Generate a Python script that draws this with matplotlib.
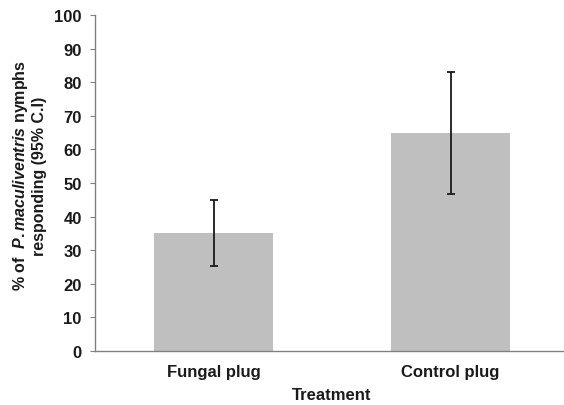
import matplotlib
matplotlib.use("Agg")
import matplotlib.pyplot as plt

categories = ["Fungal plug", "Control plug"]
percent = [35, 65]
ci_low = [25.2, 46.8]
ci_high = [44.8, 83.1]

plt.rcParams["font.family"] = "Liberation Sans"
plt.rcParams["font.weight"] = "bold"
plt.rcParams["mathtext.fontset"] = "custom"
plt.rcParams["mathtext.it"] = "Liberation Sans:italic:bold"
plt.rcParams["mathtext.rm"] = "Liberation Sans:bold"

txt = "#1a1a1a"
fig = plt.figure(figsize=(5.64, 4.06), dpi=100)
ax = fig.add_axes([95 / 564, 1 - 352 / 406, 474 / 564, 336 / 406])

err = [[p - l for p, l in zip(percent, ci_low)],
       [h - p for p, h in zip(percent, ci_high)]]
x = range(len(categories))
ax.bar(x, percent, width=0.5, color="#bfbfbf")
ax.errorbar(x, percent, yerr=err, fmt="none", ecolor=txt,
            elinewidth=1.3, capsize=2.6, capthick=1.3)

ax.set_xlim(-0.5, 1.5)
ax.set_ylim(0, 100)
ax.set_yticks(range(0, 101, 10))
ax.set_yticklabels([str(v) for v in range(0, 101, 10)],
                   fontsize=12, fontweight="bold", color=txt)
ax.set_xticks(list(x))
ax.set_xticklabels(categories, fontsize=12, fontweight="bold", color=txt)
ax.tick_params(axis="x", length=0, pad=9)
ax.tick_params(axis="y", length=3.6, color="#808080", pad=6)

for s in ["top", "right"]:
    ax.spines[s].set_visible(False)
for s in ["left", "bottom"]:
    ax.spines[s].set_color("#808080")
    ax.spines[s].set_linewidth(1)

ax.set_xlabel("Treatment", fontsize=12, fontweight="bold", color=txt)
ax.xaxis.set_label_coords(0.5, -(396 - 352) / 336)
ax.xaxis.label.set_va("center")
ax.set_ylabel("% of  $P. maculiventris$ nymphs\nresponding (95% C.I)",
              fontsize=11.5, fontweight="bold", color=txt, linespacing=1.2)
ax.yaxis.set_label_coords(-(95 - 47) / 474, (352 - 176) / 336)

fig.savefig("out.png", dpi=100)
